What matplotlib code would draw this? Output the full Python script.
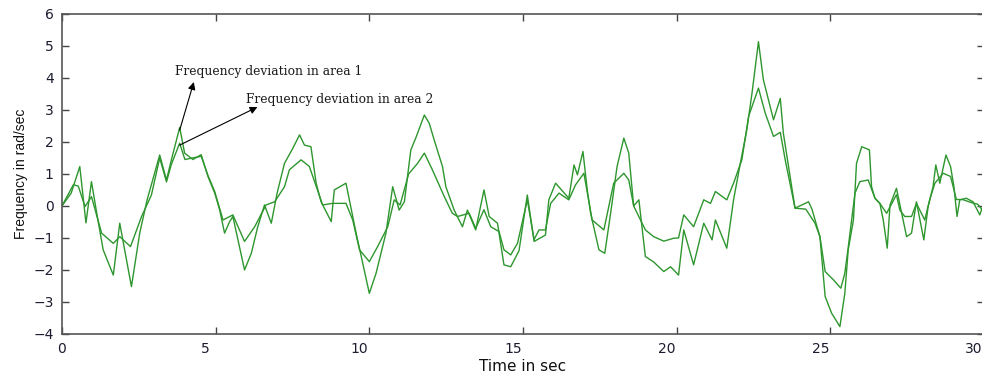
import matplotlib
matplotlib.use("Agg")
import matplotlib.pyplot as plt
from matplotlib.transforms import ScaledTranslation

# Frequency deviation of area 1 (larger swings)
t_area1 = [0, 0.3, 0.58, 0.78, 0.96, 1.13, 1.34, 1.67, 1.88, 2.26, 2.53, 2.77, 3.18, 3.4, 3.56,
           3.83, 3.99, 4.26, 4.53, 4.75, 4.97, 5.13, 5.29, 5.45, 5.56, 5.94, 6.16, 6.37, 6.59, 6.81,
           7.0, 7.24, 7.51, 7.73, 7.89, 8.1, 8.27, 8.43, 8.76, 8.86, 9.24, 9.57, 10.0, 10.22, 10.54,
           10.76, 10.97, 11.14, 11.35, 11.51, 11.79, 11.95, 12.11, 12.38, 12.49, 12.76, 13.03, 13.19,
           13.46, 13.73, 13.9, 14.17, 14.38, 14.6, 14.87, 15.14, 15.36, 15.73, 15.84, 16.06, 16.49,
           16.66, 16.77, 16.95, 17.09, 17.2, 17.47, 17.66, 17.85, 18.06, 18.28, 18.44, 18.6, 18.77,
           18.98, 19.25, 19.58, 19.8, 20.06, 20.23, 20.55, 20.88, 21.15, 21.26, 21.63, 21.85, 22.07,
           22.28, 22.45, 22.66, 22.82, 23.15, 23.37, 23.47, 23.64, 23.85, 24.29, 24.4, 24.66, 24.83,
           25.04, 25.31, 25.47, 25.58, 25.75, 25.85, 26.02, 26.27, 26.34, 26.45, 26.61, 26.72, 26.85,
           26.94, 27.15, 27.48, 27.64, 27.8, 28.04, 28.18, 28.34, 28.43, 28.56, 28.76, 28.91, 29.02,
           29.12, 29.21, 29.42, 29.64, 29.86, 30.0]
f_area1 = [0, 0.4, 1.23, -0.53, 0.76, -0.22, -1.37, -2.16, -0.54, -2.52, -0.85, 0.19, 1.59, 0.81, 1.44,
           2.45, 1.65, 1.45, 1.6, 0.92, 0.4, -0.12, -0.85, -0.5, -0.33, -2.0, -1.48, -0.65, 0.03, -0.54,
           0.4, 1.33, 1.8, 2.22, 1.9, 1.85, 0.71, 0.13, -0.49, 0.5, 0.71, -0.85, -2.73, -2.1, -0.85,
           0.6, -0.13, 0.13, 1.75, 2.12, 2.84, 2.58, 2.06, 1.23, 0.6, -0.13, -0.65, -0.13,
           -0.75, 0.5, -0.33, -0.54, -1.84, -1.9, -1.4, 0.34, -1.11, -0.91, 0.19, 0.71, 0.24,
           1.28, 0.97, 1.7, 0.5, -0.23, -1.37, -1.48, -0.23, 1.23, 2.12, 1.65, 0.0, 0.19,
           -1.58, -1.75, -2.05, -1.9, -2.16, -0.75, -1.84, -0.54, -1.06, -0.44, -1.32, 0.19, 1.33,
           2.37, 3.52, 5.13, 3.94, 2.69, 3.36, 2.27, 1.23, -0.07, 0.13, -0.1, -0.96, -2.83,
           -3.35, -3.77, -2.73, -1.37, -0.44, 1.33, 1.85, 1.75, 0.6, 0.24, 0.08, -0.44, -1.32,
           0.03, 0.55, -0.96, -0.85, 0.13, -1.06, -0.02, 0.6, 1.28, 0.71, 1.59, 1.23, 0.6,
           -0.33, 0.19, 0.24, 0.13, -0.28, 0.1]

# Frequency deviation of area 2 (smaller swings)
t_area2 = [0, 0.37, 0.53, 0.75, 0.96, 1.29, 1.67, 1.88, 2.23, 2.59, 2.91, 3.18, 3.4, 3.56, 3.83, 4.0,
           4.26, 4.53, 4.75, 4.97, 5.24, 5.56, 5.94, 6.27, 6.64, 6.92, 7.24, 7.4, 7.78, 8.05, 8.48,
           8.8, 9.24, 9.46, 9.68, 10.0, 10.27, 10.6, 10.81, 11.0, 11.28, 11.57, 11.79, 12.05, 12.44,
           12.7, 12.87, 13.25, 13.46, 13.73, 13.95, 14.22, 14.38, 14.6, 14.82, 15.14, 15.36, 15.52,
           15.73, 15.9, 16.17, 16.49, 16.71, 16.98, 17.25, 17.63, 17.95, 18.28, 18.44, 18.6, 18.98,
           19.25, 19.58, 19.9, 20.06, 20.23, 20.55, 20.88, 21.1, 21.26, 21.63, 21.85, 22.12, 22.34,
           22.66, 22.88, 23.15, 23.37, 23.53, 23.85, 24.2, 24.5, 24.66, 24.83, 25.1, 25.34, 25.47,
           25.58, 25.8, 25.96, 26.23, 26.45, 26.61, 26.83, 27.15, 27.26, 27.42, 27.64, 27.8, 28.07,
           28.23, 28.4, 28.67, 28.91, 29.1, 29.3, 29.6, 29.8, 30.0]
f_area2 = [0, 0.66, 0.62, -0.02, 0.29, -0.85, -1.17, -0.96, -1.27, -0.33, 0.34, 1.5, 0.75, 1.3, 1.96, 1.45,
           1.5, 1.55, 0.95, 0.45, -0.44, -0.28, -1.11, -0.65, 0.03, 0.13, 0.6, 1.13, 1.44, 1.23, 0.03,
           0.08, 0.08, -0.44, -1.37, -1.74, -1.27, -0.65, 0.19, 0.03, 1.0, 1.33, 1.65, 1.13, 0.29,
           -0.23, -0.33, -0.23, -0.7, -0.12, -0.65, -0.8, -1.37, -1.53, -1.17, 0.19, -1.05, -0.75,
           -0.75, 0.08, 0.4, 0.19, 0.66, 1.02, -0.44, -0.75, 0.71, 1.02, 0.81, 0.0, -0.75,
           -0.96, -1.1, -1.01, -1.0, -0.28, -0.65, 0.19, 0.08, 0.45, 0.19, 0.71, 1.44, 2.8,
           3.68, 2.9, 2.17, 2.3, 1.44, -0.07, -0.1, -0.54, -0.96, -2.05, -2.31, -2.57, -2.1,
           -1.3, 0.4, 0.76, 0.81, 0.24, 0.08, -0.23, 0.35, -0.13, -0.33, -0.33, 0.08, -0.44,
           0.19, 0.71, 1.02, 0.92, 0.2, 0.2, 0.1, 0.05, -0.2]

x_ticks = [0, 5, 10, 15, 20, 25, 30]
y_ticks = [-4, -3, -2, -1, 0, 1, 2, 3, 4, 5, 6]

label_area1 = "Frequency deviation in area 1"
label_area2 = "Frequency deviation in area 2"

line_color = "#2e962e"
tick_color = "#1c1c30"

fig = plt.figure(figsize=(9.82, 3.74), dpi=100)
ax = fig.add_axes([0.0631, 0.107, 0.939, 0.856])

ax.plot(t_area1, f_area1, color=line_color, lw=1.0)
ax.plot(t_area2, f_area2, color=line_color, lw=1.0)

ax.set_xlim(0, 30)
ax.set_ylim(-4, 6)
ax.set_xticks(x_ticks)
ax.set_yticks(y_ticks)
ax.tick_params(direction="in", length=5, width=1.0, top=True, right=True,
               colors="#444444", labelcolor=tick_color, labelsize=10, pad=6)
for s in ax.spines.values():
    s.set_color("#555555")
    s.set_linewidth(1.2)

# x tick labels sit a little left of their ticks (all but the origin)
shift = ScaledTranslation(-0.10, 0, fig.dpi_scale_trans)
for lbl in ax.get_xticklabels()[1:]:
    lbl.set_transform(lbl.get_transform() + shift)

ax.set_xlabel("Time in sec", fontsize=11, family="DejaVu Sans", color="#111111", labelpad=2)
ax.set_ylabel("Frequency in rad/sec", fontsize=10, family="Liberation Sans", color="#111111",
              labelpad=4)

# Annotations pointing to the two curves
ax.text(3.67, 4.19, label_area1, family="DejaVu Serif", fontsize=8.8, va="center", ha="left",
        color="#1a1a1a")
ax.text(6.0, 3.31, label_area2, family="DejaVu Serif", fontsize=8.8, va="center", ha="left",
        color="#1a1a1a")
arrow = dict(arrowstyle="-|>", color="black", lw=0.8, mutation_scale=11, shrinkA=0, shrinkB=0)
ax.annotate("", xy=(4.29, 3.87), xytext=(3.83, 2.37), arrowprops=arrow)
ax.annotate("", xy=(6.36, 3.09), xytext=(3.83, 1.9), arrowprops=arrow)

fig.savefig("out.png", dpi=100)
